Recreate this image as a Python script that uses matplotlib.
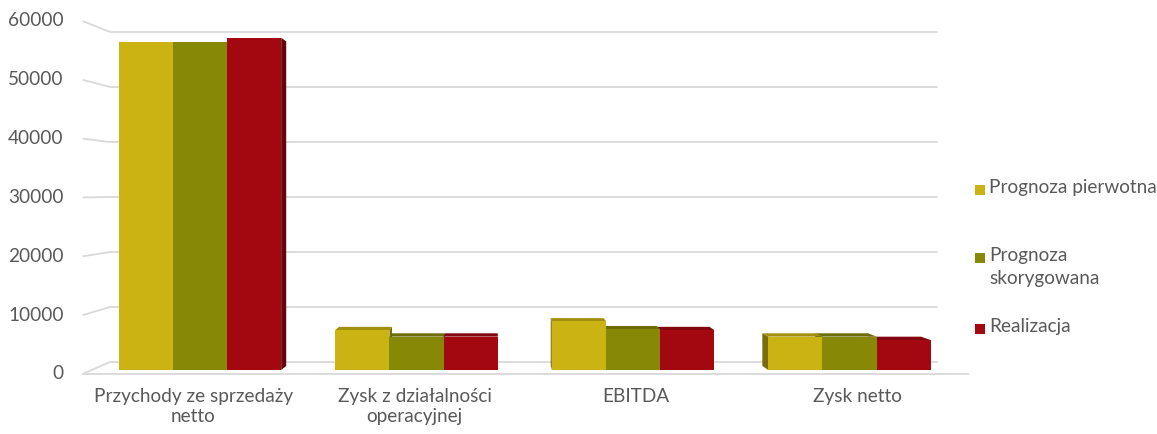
import numpy as np
import matplotlib.pyplot as plt
from matplotlib.patches import Polygon, Rectangle
from matplotlib.colors import to_rgb
import matplotlib.transforms as mtransforms

plt.rcParams['font.family'] = ['Lato', 'DejaVu Sans']

categories = ["Przychody ze sprzedaży\nnetto", "Zysk z działalności\noperacyjnej",
              "EBITDA", "Zysk netto"]
series = ["Prognoza pierwotna", "Prognoza\nskorygowana", "Realizacja"]
pierwotna = [56900, 6950, 8500, 5800]
skorygowana = [56900, 5800, 7100, 5800]
realizacja = [57700, 5800, 6950, 5200]
colors = ["#CBB313", "#878806", "#A30710"]
yticks = [0, 10000, 20000, 30000, 40000, 50000, 60000]

txt = "#595959"
grid = "#D9D9D9"
fs = 13.7

# perspective: points move toward the vanishing point (xv, yv) by factor k
xv, yv = 1.40, 31270
k_floor, k_back, k_wall = -0.0222, 0.0226, 0.0444


def proj(x, y, k):
    return x + (xv - x) * k, y + (yv - y) * k


fig = plt.figure(figsize=(11.57, 4.34), dpi=100)
W, H = 1157, 434
px_x, x0 = 216.5, 200
px_y = 5.756 / 1000
xlim = (-0.6, 3.7)
ylim = (-2000, 62000)
left = x0 + xlim[0] * px_x
bottom = H - (370 - ylim[0] * px_y)
ax = fig.add_axes([left / W, bottom / H,
                   (xlim[1] - xlim[0]) * px_x / W,
                   (ylim[1] - ylim[0]) * px_y / H])
ax.set_xlim(*xlim)
ax.set_ylim(*ylim)
ax.axis("off")

# walls and floor
for v in yticks:
    a = proj(-0.5, v, k_floor)
    b = proj(-0.5, v, k_wall)
    c = proj(3.5, v, k_wall)
    ax.plot([a[0], b[0], c[0]], [a[1], b[1], c[1]], color=grid, lw=1.3,
            zorder=1, solid_capstyle="butt")
    off = mtransforms.offset_copy(ax.transData, fig=fig, x=-19, y=0, units="dots")
    ax.text(a[0], a[1], f"{v}", transform=off, ha="right", va="center",
            fontsize=fs, color=txt)
fa = proj(-0.5, 0, k_floor)
fb = proj(3.5, 0, k_floor)
ax.plot([fa[0], fb[0]], [fa[1], fb[1]], color=grid, lw=1.3, zorder=1)

# bars
width = 0.25
values = [pierwotna, skorygowana, realizacja]
bars = []
for s, vals in enumerate(values):
    for i, v in enumerate(vals):
        xc = i + (s - 1) * width
        bars.append((abs(xc - xv), xc, v, colors[s]))
bars.sort(key=lambda b: -b[0])


def shade(c, f):
    r, g, b = to_rgb(c)
    return (r * f, g * f, b * f)


for rank, (_, xc, v, col) in enumerate(bars):
    z = 2 + rank * 0.01
    xa, xb = xc - width / 2, xc + width / 2
    if v < yv:
        pts = [proj(xa, v, 0), proj(xb, v, 0), proj(xb, v, k_back), proj(xa, v, k_back)]
        ax.add_patch(Polygon(pts, closed=True, facecolor=shade(col, 0.8),
                             edgecolor="none", zorder=z))
    if xb < xv:
        pts = [proj(xb, 0, 0), proj(xb, v, 0), proj(xb, v, k_back), proj(xb, 0, k_back)]
        ax.add_patch(Polygon(pts, closed=True, facecolor=shade(col, 0.6),
                             edgecolor="none", zorder=z))
    if xa > xv:
        pts = [proj(xa, 0, 0), proj(xa, v, 0), proj(xa, v, k_back), proj(xa, 0, k_back)]
        ax.add_patch(Polygon(pts, closed=True, facecolor=shade(col, 0.6),
                             edgecolor="none", zorder=z))
    ax.bar(xc, v, width=width, color=col, linewidth=0, zorder=z + 0.005)

# category labels under the floor edge
for i, cat in enumerate(categories):
    p = proj(i, 0, k_floor)
    off = mtransforms.offset_copy(ax.transData, fig=fig, x=0, y=-14, units="dots")
    ax.text(p[0], p[1], cat, transform=off, ha="center", va="top",
            fontsize=fs, color=txt, linespacing=1.2)

# legend
leg_y = [190, 258, 329]
for s, name in enumerate(series):
    y = H - leg_y[s]
    fig.patches.append(Rectangle((975 / W, (y - 5) / H), 10 / W, 10 / H,
                                 transform=fig.transFigure, facecolor=colors[s],
                                 edgecolor="none"))
    fig.text(989 / W, (y + 11) / H, name, ha="left", va="top", fontsize=fs,
             color=txt, linespacing=1.4)

fig.savefig("out.png", dpi=100)
